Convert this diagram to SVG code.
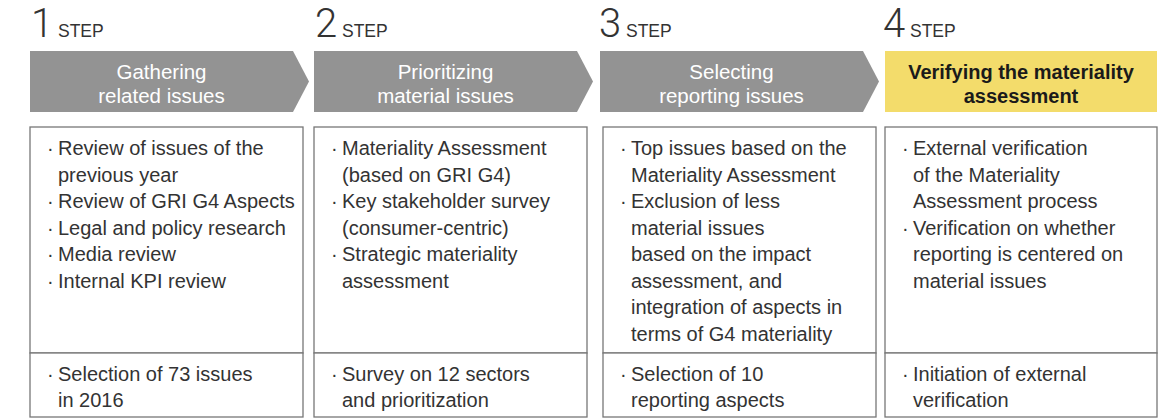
<svg xmlns="http://www.w3.org/2000/svg" width="1169" height="419" viewBox="0 0 1169 419">
<style>
.num{font-family:Roboto,"Liberation Sans",sans-serif;font-weight:300;font-size:40px;fill:#333}
.step{font-family:"Liberation Sans",Arial,sans-serif;font-size:17.5px;fill:#333}
.ban{fill:#939393}
.ylw{fill:#f3dc6b}
.bt{font-family:"Liberation Sans",Arial,sans-serif;font-size:20.5px;fill:#fff;text-anchor:middle}
.by{font-family:"Liberation Sans",Arial,sans-serif;font-size:20px;font-weight:bold;fill:#1a1a1a;text-anchor:middle}
.box{fill:#fff;stroke:#777;stroke-width:1.3}
.tx{font-family:"Liberation Sans",Arial,sans-serif;font-size:20px;fill:#333}
</style>
<rect width="1169" height="419" fill="#fff"/>
<g id="step1">
<text class="num" x="31" y="37">1</text><text class="step" x="58" y="37">STEP</text>
<polygon class="ban" points="30,51 293,51 309,81.5 293,112 30,112"/>
<text class="bt" x="161.5" y="79">Gathering</text><text class="bt" x="161.5" y="103">related issues</text>
<rect class="box" x="30" y="127" width="273" height="226"/><rect class="box" x="30" y="353" width="273" height="64"/>
<text class="tx" x="47" y="155">·</text><text class="tx" x="58" y="155">Review of issues of the</text>
<text class="tx" x="58" y="181.5">previous year</text>
<text class="tx" x="47" y="208">·</text><text class="tx" x="58" y="208">Review of GRI G4 Aspects</text>
<text class="tx" x="47" y="234.5">·</text><text class="tx" x="58" y="234.5">Legal and policy research</text>
<text class="tx" x="47" y="261">·</text><text class="tx" x="58" y="261">Media review</text>
<text class="tx" x="47" y="287.5">·</text><text class="tx" x="58" y="287.5">Internal KPI review</text>
<text class="tx" x="47" y="380.5">·</text><text class="tx" x="58" y="380.5">Selection of 73 issues</text>
<text class="tx" x="58" y="407">in 2016</text>
</g>
<g id="step2">
<text class="num" x="315" y="37">2</text><text class="step" x="342" y="37">STEP</text>
<polygon class="ban" points="314,51 577,51 593,81.5 577,112 314,112"/>
<text class="bt" x="445.5" y="79">Prioritizing</text><text class="bt" x="445.5" y="103">material issues</text>
<rect class="box" x="314" y="127" width="273" height="226"/><rect class="box" x="314" y="353" width="273" height="64"/>
<text class="tx" x="331" y="155">·</text><text class="tx" x="342" y="155">Materiality Assessment</text>
<text class="tx" x="342" y="181.5">(based on GRI G4)</text>
<text class="tx" x="331" y="208">·</text><text class="tx" x="342" y="208">Key stakeholder survey</text>
<text class="tx" x="342" y="234.5">(consumer-centric)</text>
<text class="tx" x="331" y="261">·</text><text class="tx" x="342" y="261">Strategic materiality</text>
<text class="tx" x="342" y="287.5">assessment</text>
<text class="tx" x="331" y="380.5">·</text><text class="tx" x="342" y="380.5">Survey on 12 sectors</text>
<text class="tx" x="342" y="407">and prioritization</text>
</g>
<g id="step3">
<text class="num" x="599" y="37">3</text><text class="step" x="626" y="37">STEP</text>
<polygon class="ban" points="600,51 863,51 879,81.5 863,112 600,112"/>
<text class="bt" x="731.5" y="79">Selecting</text><text class="bt" x="731.5" y="103">reporting issues</text>
<rect class="box" x="603" y="127" width="273" height="226"/><rect class="box" x="603" y="353" width="273" height="64"/>
<text class="tx" x="620" y="155">·</text><text class="tx" x="631" y="155">Top issues based on the</text>
<text class="tx" x="631" y="181.5">Materiality Assessment</text>
<text class="tx" x="620" y="208">·</text><text class="tx" x="631" y="208">Exclusion of less</text>
<text class="tx" x="631" y="234.5">material issues</text>
<text class="tx" x="631" y="261">based on the impact</text>
<text class="tx" x="631" y="287.5">assessment, and</text>
<text class="tx" x="631" y="314">integration of aspects in</text>
<text class="tx" x="631" y="340.5">terms of G4 materiality</text>
<text class="tx" x="620" y="380.5">·</text><text class="tx" x="631" y="380.5">Selection of 10</text>
<text class="tx" x="631" y="407">reporting aspects</text>
</g>
<g id="step4">
<text class="num" x="883" y="37">4</text><text class="step" x="910" y="37">STEP</text>
<rect class="ylw" x="885" y="51" width="272" height="61"/>
<text class="by" x="1021" y="79">Verifying the materiality</text><text class="by" x="1021" y="103">assessment</text>
<rect class="box" x="885" y="127" width="272" height="226"/><rect class="box" x="885" y="353" width="272" height="64"/>
<text class="tx" x="902" y="155">·</text><text class="tx" x="913" y="155">External verification</text>
<text class="tx" x="913" y="181.5">of the Materiality</text>
<text class="tx" x="913" y="208">Assessment process</text>
<text class="tx" x="902" y="234.5">·</text><text class="tx" x="913" y="234.5">Verification on whether</text>
<text class="tx" x="913" y="261">reporting is centered on</text>
<text class="tx" x="913" y="287.5">material issues</text>
<text class="tx" x="902" y="380.5">·</text><text class="tx" x="913" y="380.5">Initiation of external</text>
<text class="tx" x="913" y="407">verification</text>
</g>
<g id="connectors"></g>
</svg>
